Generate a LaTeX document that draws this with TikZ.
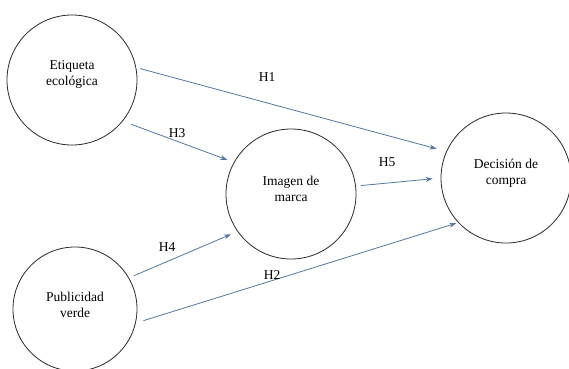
\documentclass[tikz,border=0pt]{standalone}
\usepackage{fontspec}
\setmainfont{Liberation Serif}
\usepackage{tikz}
\usetikzlibrary{arrows.meta}
\definecolor{arrowblue}{RGB}{80,120,160}
\definecolor{circlegray}{RGB}{40,40,40}

\begin{document}
\begin{tikzpicture}[x=1pt, y=-1pt,
    construct/.style={draw=circlegray, line width=0.8pt, circle, align=center,
        font=\fontsize{13.5}{16}\selectfont, inner sep=0pt},
    hyp/.style={draw=arrowblue, line width=0.8pt, -{Stealth[length=7pt, width=5pt]}},
    hlabel/.style={font=\fontsize{13.5}{16}\selectfont}]
        \useasboundingbox (0,0) rectangle (569,368);

        % Constructos
        \node[construct, minimum size=130pt] (etiq) at (72,80) {};
        \node[construct, minimum size=130pt] (imagen) at (291,194) {};
        \node[construct, minimum size=130pt] (decis) at (506,178) {};
        \node[construct, minimum size=124pt] (publi) at (75,309) {};

        % Textos
        \node[hlabel, align=center] (etiqtxt) at (72,74) {Etiqueta\\ecológica};
        \node[hlabel, align=center] (imagentxt) at (291,189) {Imagen de\\marca};
        \node[hlabel, align=center] (decistxt) at (506,173) {Decisión de\\compra};
        \node[hlabel, align=center] (publitxt) at (75,305) {Publicidad\\verde};

        % Hipotesis
        \draw[hyp, shorten <=4pt, shorten >=10pt] (etiq.11) -- (decis.156);
        \draw[hyp, shorten <=9pt, shorten >=7pt] (etiq.-39) -- (imagen.151);
        \draw[hyp, shorten <=5pt, shorten >=8pt] (imagen.7) -- (decis.180);
        \draw[hyp, shorten <=5pt, shorten >=7pt] (publi.30) -- (imagen.215);
        \draw[hyp, shorten <=8pt, shorten >=2pt] (publi.-13) -- (decis.223);

        % Etiquetas
        \node[hlabel] (h1) at (267,77) {H1};
        \node[hlabel] (h3) at (177,133) {H3};
        \node[hlabel] (h5) at (387,162) {H5};
        \node[hlabel] (h4) at (167,247) {H4};
        \node[hlabel] (h2) at (272,275) {H2};
    \end{tikzpicture}
\end{document}
